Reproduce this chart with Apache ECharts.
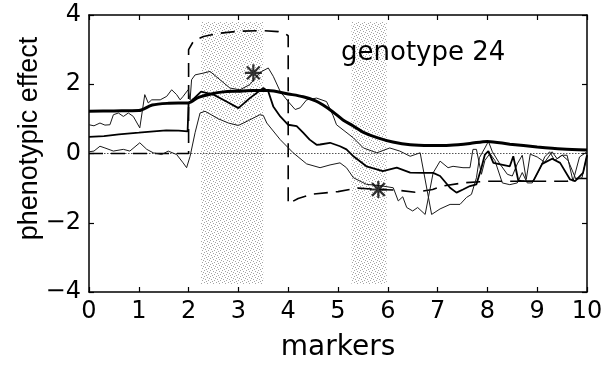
<!DOCTYPE html>
<html>
<head>
<meta charset="utf-8">
<script src="https://cdn.jsdelivr.net/npm/echarts@6/dist/echarts.min.js"></script>
<style>
  html, body { margin: 0; padding: 0; background: #fff; }
  #chart { width: 607px; height: 367px; }
</style>
</head>
<body>
<div id="chart"></div>
<script>
// Marker intervals flagged as QTL regions (stippled bands)
const qtlBands = [[2.25, 3.5], [5.27, 5.98]];
const bandTop = 3.8;
const bandBottom = -3.77;

// Smoothed effect along the markers (heavy line)
const smoothEffect = [
  [0, 1.22], [0.5, 1.23], [1.0, 1.24], [1.27, 1.4], [1.6, 1.45], [1.99, 1.46],
  [2.2, 1.62], [2.45, 1.72], [2.7, 1.78], [3.0, 1.8], [3.3, 1.82], [3.6, 1.82],
  [4.0, 1.72], [4.3, 1.64], [4.55, 1.52], [4.7, 1.4], [4.9, 1.2], [5.1, 0.97],
  [5.3, 0.8], [5.5, 0.62], [5.8, 0.45], [6.1, 0.33], [6.45, 0.25], [6.85, 0.23],
  [7.25, 0.24], [7.65, 0.29], [8.0, 0.35], [8.45, 0.27], [9.0, 0.19], [9.5, 0.13],
  [10, 0.1]
];

// Point estimate of the effect (medium line)
const estimate = [
  [0, 0.48], [0.3, 0.5], [0.6, 0.55], [1.0, 0.6], [1.3, 0.64], [1.55, 0.67],
  [1.8, 0.66], [1.98, 0.64], [2.0, 1.45], [2.1, 1.58], [2.25, 1.79], [2.5, 1.7],
  [2.76, 1.5], [3.0, 1.31], [3.23, 1.6], [3.5, 1.89], [3.6, 1.79], [3.7, 1.36],
  [3.84, 1.07], [4.0, 0.83], [4.17, 0.79], [4.3, 0.6], [4.43, 0.4], [4.57, 0.25],
  [4.64, 0.26], [4.84, 0.31], [5.04, 0.21], [5.17, 0.12], [5.31, -0.08],
  [5.57, -0.37], [5.9, -0.51], [6.18, -0.41], [6.45, -0.55], [6.71, -0.56],
  [6.91, -0.56], [7.05, -0.65], [7.25, -0.99], [7.38, -1.13], [7.51, -1.04],
  [7.65, -0.94], [7.78, -0.89], [7.88, -0.41], [7.95, -0.03], [8.02, 0.07],
  [8.12, -0.27], [8.45, -0.37], [8.52, -0.08], [8.62, -0.78], [8.69, -0.8],
  [8.92, -0.8], [9.1, -0.3], [9.3, -0.15], [9.46, -0.27], [9.66, -0.75],
  [9.76, -0.8], [9.92, -0.56], [10, -0.05]
];

// Upper band of the estimate (thin line)
const upperBand = [
  [0, 0.83], [0.1, 0.8], [0.22, 0.88], [0.32, 0.82], [0.42, 0.83], [0.49, 1.12],
  [0.59, 1.17], [0.69, 1.07], [0.79, 1.17], [0.89, 1.07], [1.02, 0.74], [1.12, 1.7],
  [1.19, 1.46], [1.26, 1.55], [1.43, 1.55], [1.56, 1.65], [1.66, 1.84], [1.76, 1.7],
  [1.83, 1.55], [1.89, 1.65], [1.99, 1.84], [2.03, 1.55], [2.06, 2.13], [2.13, 2.27],
  [2.29, 2.32], [2.43, 2.37], [2.63, 2.13], [2.83, 1.89], [3.03, 1.84], [3.23, 1.99],
  [3.35, 2.2], [3.47, 2.37], [3.6, 2.47], [3.7, 2.23], [3.84, 1.79], [4.0, 1.5],
  [4.14, 1.27], [4.24, 1.32], [4.37, 1.55], [4.57, 1.6], [4.77, 1.5], [4.9, 1.1],
  [4.97, 0.83], [5.31, 0.45], [5.51, 0.16], [5.78, 0.02], [6.04, 0.16], [6.24, 0.07],
  [6.45, -0.08], [6.65, 0.02], [6.68, 0.02], [6.88, -1.76], [7.05, -1.6],
  [7.25, -1.47], [7.45, -1.47], [7.58, -1.27], [7.68, -1.18], [7.78, -0.7],
  [7.84, -0.12], [7.95, 0.16], [8.02, 0.35], [8.1, 0.05], [8.25, -0.3], [8.4, -0.6],
  [8.5, -0.65], [8.6, -0.3], [8.7, -0.05], [8.78, -0.75], [8.86, -0.02], [9.0, -0.1],
  [9.15, -0.25], [9.3, 0.05], [9.4, -0.15], [9.5, -0.05], [9.6, -0.05], [9.72, -0.8],
  [9.85, -0.1], [10, 0.05]
];

// Lower band of the estimate (thin line)
const lowerBand = [
  [0, 0.05], [0.1, 0.07], [0.22, 0.21], [0.32, 0.16], [0.49, 0.07], [0.69, 0.12],
  [0.82, 0.07], [1.02, 0.31], [1.16, 0.12], [1.29, 0.02], [1.46, -0.03], [1.59, 0.07],
  [1.76, -0.03], [1.89, -0.27], [1.96, -0.41], [2.03, -0.08], [2.13, 0.6],
  [2.23, 1.17], [2.33, 1.22], [2.6, 1.0], [2.8, 0.88], [3.0, 0.81], [3.2, 0.95],
  [3.43, 1.12], [3.5, 1.1], [3.57, 0.88], [3.84, 0.4], [4.1, 0.02], [4.37, -0.3],
  [4.64, -0.41], [4.84, -0.33], [5.04, -0.27], [5.17, -0.41], [5.31, -0.7],
  [5.57, -0.89], [5.9, -0.94], [6.11, -0.99], [6.21, -1.37], [6.3, -1.25],
  [6.38, -1.56], [6.5, -1.66], [6.6, -1.56], [6.75, -1.76], [6.91, -0.56],
  [7.05, -0.22], [7.21, -0.41], [7.31, -0.37], [7.51, -0.41], [7.65, -0.41],
  [7.71, 0.12], [7.78, 0.12], [7.88, -0.6], [7.95, -0.2], [8.05, 0.0], [8.15, -0.2],
  [8.3, -0.85], [8.45, -0.9], [8.6, -0.85], [8.7, -0.55], [8.8, -0.85], [8.9, -0.85],
  [9.05, -0.45], [9.15, -0.1], [9.25, 0.05], [9.35, -0.2], [9.5, -0.05], [9.62, -0.2],
  [9.78, -0.75], [9.9, -0.7], [10, -0.05]
];

// Simulated (true) QTL effects (dashed step curve)
const trueEffect = [
  [0, 0], [2.0, 0], [2.0, 3.0], [2.1, 3.25], [2.3, 3.38], [2.6, 3.47], [3.0, 3.53],
  [3.5, 3.55], [3.8, 3.52], [3.95, 3.45], [4.0, 3.4], [4.0, -1.45], [4.2, -1.3],
  [4.5, -1.17], [5.0, -1.1], [5.4, -1.0], [5.8, -1.04], [6.2, -1.06], [6.55, -1.12],
  [6.9, -1.04], [7.1, -0.94], [7.5, -0.85], [8.0, -0.8], [9.0, -0.8], [9.6, -0.8],
  [9.8, -0.72], [10, -0.72]
];

// Detected QTL peaks (asterisks)
const peaks = [[3.3, 2.33], [5.81, -1.04]];

const zeroLine = [[0, 0], [10, 0]];

const FONT = 'DejaVu Sans';

function stipple() {
  const c = document.createElement('canvas');
  c.width = 6; c.height = 6;
  const g = c.getContext('2d');
  g.fillStyle = '#ffffff';
  g.fillRect(0, 0, 6, 6);
  g.fillStyle = '#a4a4a4';
  [[0, 0], [3, 1], [1, 3], [4, 4], [2, 5], [5, 2]].forEach(function (p) {
    g.fillRect(p[0], p[1], 1, 1);
  });
  return c;
}

// asterisk: plus sign and a cross, drawn as filled bars
const asterisk = 'path://M0 8.7L20 8.7L20 11.3L0 11.3Z M8.7 0L11.3 0L11.3 20L8.7 20Z ' +
  'M1.6 3.4L3.4 1.6L18.4 16.6L16.6 18.4Z M16.6 1.6L18.4 3.4L3.4 18.4L1.6 16.6Z';

const axisLineStyle = { color: '#000', width: 1.5 };
const tickStyle = { color: '#000', width: 1.2 };
const minus = function (v) { return String(v).replace('-', '\u2212'); };

const chart = echarts.init(document.getElementById('chart'), null, { renderer: 'canvas' });
chart.setOption({
  backgroundColor: '#fff',
  animation: false,
  title: {
    text: 'genotype 24',
    left: 341, top: 40, padding: 0,
    textStyle: { fontFamily: FONT, fontSize: 26, fontWeight: 'normal', color: '#000' }
  },
  grid: { left: 89, right: 20, top: 15, bottom: 74 },
  xAxis: [{
    type: 'value', min: 0, max: 10, interval: 1, position: 'bottom',
    axisLine: { show: true, onZero: false, lineStyle: axisLineStyle },
    axisTick: { show: true, inside: true, length: 5, lineStyle: tickStyle },
    axisLabel: { fontFamily: FONT, fontSize: 24, color: '#000', margin: 8 },
    splitLine: { show: false },
    name: 'markers', nameLocation: 'middle', nameGap: 42, nameMoveOverlap: false,
    nameTextStyle: { fontFamily: FONT, fontSize: 28, color: '#000' }
  }, {
    type: 'value', min: 0, max: 10, interval: 1, position: 'top',
    axisLine: { show: true, onZero: false, lineStyle: axisLineStyle },
    axisTick: { show: true, inside: true, length: 5, lineStyle: tickStyle },
    axisLabel: { show: false }, splitLine: { show: false }
  }],
  yAxis: [{
    type: 'value', min: -4, max: 4, interval: 2, position: 'left',
    axisLine: { show: true, onZero: false, lineStyle: axisLineStyle },
    axisTick: { show: true, inside: true, length: 5, lineStyle: tickStyle },
    axisLabel: { fontFamily: FONT, fontSize: 24, color: '#000', margin: 8, formatter: minus },
    splitLine: { show: false },
    name: 'phenotypic effect', nameLocation: 'middle', nameGap: 46, nameRotate: 90,
    nameMoveOverlap: false,
    nameTextStyle: { fontFamily: 'Liberation Sans', fontSize: 27, color: '#000', padding: [0, 0, 0, 30] }
  }, {
    type: 'value', min: -4, max: 4, interval: 2, position: 'right',
    axisLine: { show: true, onZero: false, lineStyle: axisLineStyle },
    axisTick: { show: true, inside: true, length: 5, lineStyle: tickStyle },
    axisLabel: { show: false }, splitLine: { show: false }
  }],
  series: [
    {
      name: 'zero', type: 'line', data: zeroLine, symbol: 'none', silent: true,
      lineStyle: { color: '#555', width: 1, type: [1.5, 1.5] },
      z: 1,
      markArea: {
        silent: true,
        itemStyle: { color: { image: stipple(), repeat: 'repeat' } },
        data: qtlBands.map(function (b) {
          return [{ xAxis: b[0], yAxis: bandBottom }, { xAxis: b[1], yAxis: bandTop }];
        })
      }
    },
    {
      name: 'true', type: 'line', data: trueEffect, symbol: 'none', z: 3,
      lineStyle: { color: '#000', width: 1.6, type: [14, 8] }
    },
    {
      name: 'upper', type: 'line', data: upperBand, symbol: 'none', z: 3,
      lineStyle: { color: '#1a1a1a', width: 1 }
    },
    {
      name: 'lower', type: 'line', data: lowerBand, symbol: 'none', z: 3,
      lineStyle: { color: '#1a1a1a', width: 1 }
    },
    {
      name: 'estimate', type: 'line', data: estimate, symbol: 'none', z: 4,
      lineStyle: { color: '#000', width: 1.8 }
    },
    {
      name: 'smooth', type: 'line', data: smoothEffect, symbol: 'none', smooth: 0.3, z: 5,
      lineStyle: { color: '#000', width: 3 }
    },
    {
      name: 'peaks', type: 'scatter', data: peaks, symbol: asterisk, symbolSize: 17, z: 6,
      itemStyle: { color: '#000' }
    }
  ]
});
</script>
</body>
</html>
